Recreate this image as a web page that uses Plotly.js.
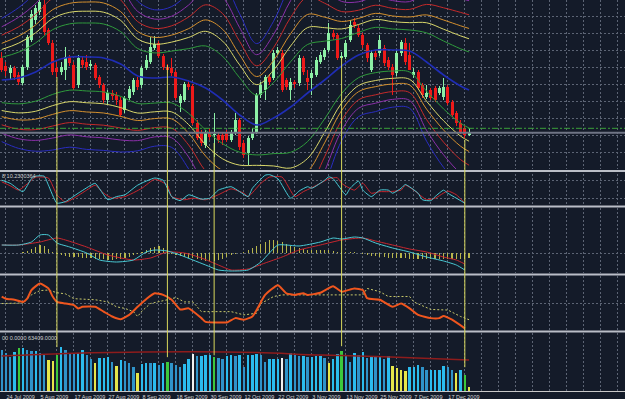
<!DOCTYPE html>
<html><head><meta charset="utf-8">
<script src="https://cdn.plot.ly/plotly-3.0.1.min.js"></script>
<style>html,body{margin:0;padding:0;background:#141b29;}#chart{width:625px;height:399px;}</style>
</head><body><div id="chart"></div>
<script>
// ---------- DATA ----------
const dateLabels = ['24 Jul 2009','5 Aug 2009','17 Aug 2009','27 Aug 2009','8 Sep 2009','18 Sep 2009','30 Sep 2009','12 Oct 2009','22 Oct 2009','3 Nov 2009','13 Nov 2009','25 Nov 2009','7 Dec 2009','17 Dec 2009'];
const dateLabelBars = [1,9,17,25,33,41,49,57,65,73,81,89,97,105];

const open = [112,104,97,102,95,87,103,130,150,158,
165,140,127,102,98,100,113,105,85,110,
108,104,105,93,85,70,77,75,70,60,
72,78,90,85,102,108,122,127,114,103,
102,98,67,70,86,84,47,37,25,38,
35,35,35,37,30,37,50,27,17,32,
38,75,80,93,92,117,117,90,80,88,
87,112,92,92,95,108,113,120,137,135,
112,113,130,148,142,135,125,100,117,117,
122,110,103,97,117,127,115,95,98,85,
73,80,82,77,73,83,68,57,47,42,
35];
const high = [118,108,105,104,98,105,135,160,165,175,
170,142,130,108,108,123,115,108,115,113,
115,110,107,95,87,80,80,78,73,74,
84,92,93,104,115,133,134,129,116,106,
112,100,76,88,90,86,50,40,40,42,
57,38,37,40,40,57,52,30,34,42,
77,88,95,96,120,123,120,92,92,90,
115,114,100,100,113,118,122,147,140,137,
118,130,150,152,145,137,127,120,120,135,
125,113,106,120,130,132,127,102,100,87,
85,82,84,84,92,85,70,59,50,44,
42];
const low = [98,94,90,90,85,85,100,128,146,155,
135,125,95,93,95,90,104,80,82,102,
100,100,90,82,67,66,70,65,53,57,
70,75,80,82,100,106,120,112,100,97,
94,70,58,68,80,45,30,24,22,30,
13,27,25,28,28,35,20,12,5,30,
36,72,70,85,90,115,78,80,70,82,
84,95,80,75,93,106,110,118,130,110,
110,111,128,142,133,122,108,98,110,114,
104,100,75,94,114,105,100,92,80,72,
71,70,68,75,70,65,53,44,36,32,
34];
const close = [100,99,102,93,88,103,133,156,162,168,
138,127,98,98,103,113,107,82,112,105,
103,106,92,85,70,77,74,70,55,72,
81,90,83,102,110,123,126,114,103,100,
97,72,74,86,83,47,32,27,37,33,
36,30,30,30,37,50,23,15,32,38,
75,85,93,88,117,120,80,83,88,86,
112,98,88,97,110,115,120,137,133,112,
114,127,145,145,135,125,112,117,113,130,
107,103,95,117,128,108,100,98,82,75,
77,72,70,82,83,67,55,47,38,35,
38];

// envelope centre line and width, read at sample bars
const bandBars  = [0,4,8,12,16,20,24,28,32,36,40,44,48,52,56,60,64,68,72,76,80,84,88,92,96,100,104,108,110];
const bandMid   = [90,92,98,108,113,113,112,106,94,92,93,89,82,70,55,45,52,63,77,90,104,115,120,120,119,108,95,84,80];
const bandSigma = [14,16,18,20,20.5,21,21,20,17,15.5,16,20,26,27,23,18.5,22,28,30,24,17,14,14,13,13,18,21,23,23.5];
const bandMult  = [1.618,2.18,2.618,3.2,3.8,4.4];

const levelDash = 41.7;   // green dash-dot level
const levelBid  = 37.3;   // grey price line

// stochastic
const stochKBars = [0,2,5,7,8,10,11,13,15,18,21,22,25,27,29,32,36,38,40,42,44,47,49,51,54,56,58,59,62,63,65,68,70,72,73,76,77,78,81,82,84,85,87,89,91,92,94,95,98,99,101,102,104,105,107,109];
const stochK     = [80,70,43,85,93,93,64,6,11,38,64,70,17,27,33,64,87,80,27,14,33,19,22,48,59,43,27,54,96,98,85,22,45,59,54,80,91,85,33,54,77,48,27,48,48,38,54,66,38,17,14,27,48,38,22,6];
const stochDBars = [0,2,4,7,8,11,13,15,17,20,22,24,26,29,33,36,39,40,43,45,48,51,54,57,58,61,63,66,69,71,73,75,77,79,80,83,85,87,89,91,94,95,97,100,102,105,107,109];
const stochD     = [75,62,48,80,90,87,33,9,22,48,64,38,22,27,54,83,64,27,17,22,17,33,52,38,27,70,90,90,27,43,56,70,85,88,70,48,70,38,43,43,48,64,48,17,22,45,33,6];

// MACD
const macdBars = [0,4,7,9,11,13,16,20,23,27,31,34,36,39,42,45,48,51,54,58,61,63,65,67,70,75,78,80,83,85,88,92,96,100,104,107,109];
const macdMain = [8,8,11,18,18,10,6,0,-7,-9,-7,1,3,2,-2,-7,-12,-17,-18,-17,-9,0,8,8,7,11,15,14,16,15,10,5,1,-4,-8,-12,-17];
const sigBarsM = [0,4,9,13,15,20,25,31,35,39,43,47,51,54,58,62,66,70,75,80,85,88,92,96,100,104,107,109];
const macdSig  = [8,8,11,15,13,6,-2,-7,-5,1,0,-5,-12,-17,-16,-10,-4,3,8,13,15,12,8,4,1,-4,-7,-11];
const macdHist = [0.5,0.5,0,0,0.5,1,2,4,6,8,
7,4,1,-1,-2,-3,-4,-4,-4,-5,
-5,-5,-6,-6,-6,-7,-7,-6,-6,-5,
-4,-2,-1,1,3,5,6,7,5,2,
-1,-2,-3,-4,-5,-5,-6,-7,-8,-8,
-8,-7,-6,-4,-2,-1,0,1,3,5,
7,9,11,13,13,12,11,9,7,6,
5,4,3,3,3,3,3,3,2,1,
1,1,1,1,0,-1,-2,-3,-3,-4,
-4,-5,-5,-5,-5,-5,-6,-6,-6,-6,
-6,-6,-6,-6,-6,-6,-6,-6,-6,-6,
-5];

// RSI-type oscillator
const rsiBars = [0,1,3,5,6,7,9,11,12,13,15,17,18,19,22,24,26,28,30,32,34,36,38,40,42,44,47,48,51,53,55,57,59,60,62,65,67,69,71,72,75,78,80,83,85,86,89,92,94,96,98,101,103,104,106,109];
const rsiVal  = [62,58,56,52,58,74,86,77,62,52,49,46,40,43,43,34,25,20,28,43,57,68,65,56,38,40,22,15,14,14,22,19,25,37,65,83,68,65,68,65,69,81,71,77,74,59,56,43,49,40,28,22,22,26,19,3];
const rsiSigBars = [0,4,5,7,9,11,13,15,17,22,25,27,29,31,32,33,35,39,40,41,43,45,47,50,54,57,60,61,64,66,75,85,86,89,91,96,97,101,105,108,110];
const rsiSig     = [49,49,50,65,73,74,69,67,58,56,52,43,40,34,25,35,49,56,58,60,52,52,34,34,34,28,31,49,62,65,65,65,77,71,62,62,52,38,37,25,19];

// volume (thousands)
const volume = [44.8,41.2,37.5,43.0,46.7,46.7,44.8,43.7,43.7,41.2,
39.3,33.9,33.1,39.3,47.8,44.8,41.9,41.2,41.2,44.8,
39.3,34.6,30.9,35.7,35.7,36.8,32.0,27.3,33.9,33.1,
30.3,26.6,20.0,29.5,30.9,30.3,30.3,28.4,30.9,32.0,
30.3,28.4,25.9,29.5,34.6,40.4,38.3,38.3,39.3,39.3,
36.8,35.7,34.6,38.3,39.3,38.3,39.3,26.6,39.3,39.3,
40.4,39.3,32.0,34.6,34.6,34.6,35.7,34.6,41.2,39.3,
38.3,38.3,36.8,37.5,38.3,38.3,35.7,30.3,34.6,40.4,
43.7,38.3,32.0,41.9,39.3,43.0,35.7,38.3,36.8,37.5,
34.6,38.3,27.3,24.8,23.0,21.9,25.9,26.6,28.4,26.6,
23.0,23.0,23.0,23.0,27.3,25.9,23.0,20.0,23.0,17.5,
4.7];
const volumeKind = ('....g.....' + '.yyg......' + '..y....y..' + '..y......g' + '.....w....' +
                    'g.........' + '......w...' + '.......y..' + 'g.........' + '..yyyy....' +
                    '.......y.g' + 'y').split('');
const volMaBars = [0,15,30,45,60,75,90,110];
const volMa     = [38.3,41,42.5,43,42,39.3,37.5,33.9];
const volMax = 63.409;

// signal verticals
const signalBars   = [13,39,50,80,109];
const signalTopPx  = [93,105,27,113,30];   // price units
const signalBotVol = [48,37,39,49,26];     // volume units

// ---------- LAYOUT HELPERS ----------
const H = 391;                       // plot height in px
const dom = (t,b) => [1 - b/H, 1 - t/H];
const bg = '#141b29';
const gridColor = '#5c6474';
const gridDash = '2px,2px';
const bars = open.map((_, i) => i);
const gridBars = []; for (let b = 1; b <= 145; b += 4) gridBars.push(b);
const gridText = gridBars.map(b => { const k = dateLabelBars.indexOf(b); return k >= 0 ? dateLabels[k] : ''; });

const traces = [];
// envelopes
const bandColors = ['#2f9a3c','#d9d76a','#d4902e','#c42a2a','#8a2fa8','#2a2dc0'];
bandMult.forEach((k, n) => {
  [1, -1].forEach(s => {
    traces.push({type:'scatter', mode:'lines', x: bandBars, y: bandMid.map((m,j) => m + s*k*bandSigma[j]),
      line:{color: bandColors[n], width: 1, shape:'spline', smoothing: 1}, xaxis:'x', yaxis:'y', hoverinfo:'skip'});
  });
});
traces.push({type:'scatter', mode:'lines', x: bandBars, y: bandMid,
  line:{color:'#1f2db4', width:1.6, shape:'spline', smoothing:1}, xaxis:'x', yaxis:'y', hoverinfo:'skip'});

// candles
const up = bars.map(i => close[i] >= open[i]);
const cCol = up.map(u => u ? '#8cf0a6' : '#ee1a1a');
traces.push({type:'bar', x: bars, base: low, y: bars.map(i => high[i] - low[i]), width: 0.24,
  marker:{color: cCol, line:{width:0}}, xaxis:'x', yaxis:'y', hoverinfo:'skip'});
traces.push({type:'bar', x: bars, base: bars.map(i => Math.min(open[i], close[i])),
  y: bars.map(i => Math.max(Math.abs(close[i] - open[i]), 0.8)), width: 0.72,
  marker:{color: cCol, line:{width:0}}, xaxis:'x', yaxis:'y', hoverinfo:'skip'});

// stochastic
traces.push({type:'scatter', mode:'lines', x: stochDBars, y: stochD, line:{color:'#c8262e', width:1, shape:'spline', smoothing:0.5}, xaxis:'x2', yaxis:'y2'});
traces.push({type:'scatter', mode:'lines', x: stochKBars, y: stochK, line:{color:'#49c9d4', width:1, shape:'spline', smoothing:0.5}, xaxis:'x2', yaxis:'y2'});

// MACD
traces.push({type:'bar', x: bars, y: macdHist, width: 0.28, marker:{color:'#b8b64c', line:{width:0}}, xaxis:'x3', yaxis:'y3'});
traces.push({type:'scatter', mode:'lines', x: sigBarsM, y: macdSig, line:{color:'#c8262e', width:1, shape:'spline', smoothing:0.6}, xaxis:'x3', yaxis:'y3'});
traces.push({type:'scatter', mode:'lines', x: macdBars, y: macdMain, line:{color:'#49c9d4', width:1, shape:'spline', smoothing:0.6}, xaxis:'x3', yaxis:'y3'});

// RSI
traces.push({type:'scatter', mode:'lines', x: rsiSigBars, y: rsiSig, line:{color:'#c9c96a', width:1, dash:'2px,2px'}, xaxis:'x4', yaxis:'y4'});
traces.push({type:'scatter', mode:'lines', x: rsiBars, y: rsiVal, line:{color:'#f0561e', width:2, shape:'spline', smoothing:0.5}, xaxis:'x4', yaxis:'y4'});

// volume
const kindColor = {y:'#e6e64a', g:'#3cc83c', w:'#f2f2f2'};
const vCol = bars.map(i => kindColor[volumeKind[i]] || ((i > 0 && volume[i] >= volume[i-1]) ? '#2bbcee' : '#2f93c9'));
traces.push({type:'bar', x: bars, y: volume, width: 0.55, marker:{color: vCol, line:{width:0}}, xaxis:'x5', yaxis:'y5'});
traces.push({type:'scatter', mode:'lines', x: volMaBars, y: volMa, line:{color:'#8e1c1c', width:1.5, shape:'spline'}, xaxis:'x5', yaxis:'y5'});

// ---------- AXES ----------
function xAx(show) {
  return {range:[-0.4,146.7], tickmode:'array', tickvals: gridBars, ticktext: gridText,
    showticklabels: show, showgrid:true, gridcolor:gridColor, griddash:gridDash, gridwidth:1,
    zeroline:false, ticks:'', fixedrange:true, tickangle:0, automargin:false,
    showline: show, linecolor:'#c8c8c8', linewidth:1,
    ticklabelposition: 'outside right', ticklabelstandoff: 0,
    tickfont:{family:'Liberation Sans, Arial', size:5.5, color:'#d6d6d6'}};
}
function yAx(domain, range, extra) {
  return Object.assign({domain, range, showticklabels:false, zeroline:false, showgrid:true,
    gridcolor:gridColor, griddash:gridDash, gridwidth:1, ticks:'', fixedrange:true}, extra);
}

const p2paper = p => 1 - (170 - p)/H;
const v2paper = v => (v / volMax * 58) / H;

const shapes = [];
// separators
[171, 206.5, 274.5, 331.5].forEach(px => shapes.push({type:'line', xref:'paper', yref:'paper', x0:0, x1:1,
  y0: 1 - px/H, y1: 1 - px/H, line:{color:'#babec7', width:2}}));
// level lines
shapes.push({type:'line', xref:'paper', yref:'y', x0:0, x1:1, y0: levelBid, y1: levelBid, line:{color:'#6f7585', width:2}});
shapes.push({type:'line', xref:'paper', yref:'y', x0:0, x1:1, y0: levelDash, y1: levelDash, line:{color:'#3aa03a', width:1, dash:'6px,2px,2px,2px'}});
// signal verticals
signalBars.forEach((b, k) => shapes.push({type:'line', xref:'x', yref:'paper', x0:b, x1:b,
  y0: p2paper(signalTopPx[k]), y1: v2paper(signalBotVol[k]), line:{color:'#d8d85c', width:1}, layer:'above'}));

const layout = {
  width:625, height:399, margin:{l:0, r:0, t:0, b:8},
  paper_bgcolor: bg, plot_bgcolor: bg, showlegend:false, barmode:'overlay', bargap:0,
  xaxis:  Object.assign(xAx(false), {anchor:'y'}),
  xaxis2: Object.assign(xAx(false), {anchor:'y2', matches:'x'}),
  xaxis3: Object.assign(xAx(false), {anchor:'y3', matches:'x'}),
  xaxis4: Object.assign(xAx(false), {anchor:'y4', matches:'x'}),
  xaxis5: Object.assign(xAx(true),  {anchor:'y5', matches:'x'}),
  yaxis:  yAx(dom(0,169), [1,170], {tickmode:'linear', tick0:0.1, dtick:17.1}),
  yaxis2: yAx(dom(174,205), [0,100], {tickmode:'array', tickvals:[20,80]}),
  yaxis3: yAx(dom(208,273), [-20,45], {tickmode:'array', tickvals:[0]}),
  yaxis4: yAx(dom(276,330), [0,100], {tickmode:'array', tickvals:[50]}),
  yaxis5: yAx(dom(333,391), [0,volMax], {showgrid:false}),
  shapes,
  annotations: [
    {xref:'paper', yref:'paper', x:0, y:1 - 176/H, xanchor:'left', yanchor:'middle', showarrow:false,
     text:'8 10.2300364', font:{family:'Liberation Sans, Arial', size:5.5, color:'#cfcfcf'}},
    {xref:'paper', yref:'paper', x:0, y:1 - 337.5/H, xanchor:'left', yanchor:'middle', showarrow:false,
     text:'00 0.0000 63409.0000', font:{family:'Liberation Sans, Arial', size:5.5, color:'#cfcfcf'}}
  ]
};

Plotly.newPlot('chart', traces, layout, {staticPlot:true, displayModeBar:false});
</script>
</body></html>
